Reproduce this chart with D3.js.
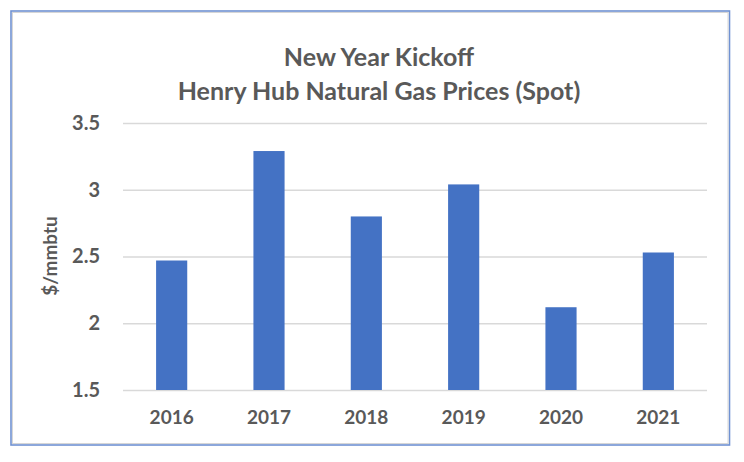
<!DOCTYPE html>
<html>
<head>
<meta charset="utf-8">
<script src="https://cdn.jsdelivr.net/npm/d3@7"></script>
<style>
  html, body { margin: 0; padding: 0; background: #ffffff; }
  svg { display: block; }
  text { font-family: Lato, "Noto Sans", sans-serif; font-weight: 700; fill: #595959; }
</style>
</head>
<body>
<svg id="chart" width="744" height="462"></svg>
<script>
const categories = ["2016", "2017", "2018", "2019", "2020", "2021"];
const prices = [2.47, 3.29, 2.80, 3.04, 2.12, 2.53];
const yTicks = [1.5, 2, 2.5, 3, 3.5];
const titleLines = ["New Year Kickoff", "Henry Hub Natural Gas Prices (Spot)"];
const yAxisTitle = "$/mmbtu";

(function () {
const svg = d3.select("#chart");

// frame
svg.append("rect").attr("x", 11).attr("y", 11).attr("width", 718.5).attr("height", 434)
  .attr("fill", "#ffffff").attr("stroke", "#7092d2").attr("stroke-width", 1.6);
svg.append("rect").attr("x", 12.5).attr("y", 12.5).attr("width", 715.5).attr("height", 431)
  .attr("fill", "none").attr("stroke", "#d6d6d6").attr("stroke-width", 1);

const plotLeft = 123, plotRight = 707, plotTop = 123, plotBottom = 390;

const x = d3.scaleBand().domain(categories).range([plotLeft, plotRight])
  .paddingInner(0.68).paddingOuter(0.34);
const y = d3.scaleLinear().domain([1.5, 3.5]).range([plotBottom, plotTop]);

// y axis with gridlines
const yAxis = d3.axisLeft(y).tickValues(yTicks).tickFormat(d3.format("")).tickSize(-(plotRight - plotLeft)).tickPadding(23);
const gy = svg.append("g").attr("transform", `translate(${plotLeft},0)`).call(yAxis);
gy.select(".domain").remove();
gy.selectAll(".tick line").attr("stroke", "#d9d9d9").attr("stroke-width", 1.4);
gy.selectAll(".tick text").attr("font-size", 20).style("fill", "#595959");

// bars
svg.append("g").selectAll("rect").data(categories).join("rect")
  .attr("x", d => x(d))
  .attr("width", x.bandwidth())
  .attr("y", (d, i) => y(prices[i]))
  .attr("height", (d, i) => y(1.5) - y(prices[i]))
  .attr("fill", "#4472c4");

// x axis
const xAxis = d3.axisBottom(x).tickSize(0).tickPadding(21);
const gx = svg.append("g").attr("transform", `translate(0,${plotBottom})`).call(xAxis);
gx.select(".domain").remove();
gx.selectAll(".tick text").attr("font-size", 19).style("fill", "#595959");

// title
const baselines = [66, 100];
svg.append("g").selectAll("text").data(titleLines).join("text")
  .attr("x", 379).attr("y", (d, i) => baselines[i])
  .attr("text-anchor", "middle")
  .attr("font-size", 25)
  .text(d => d);

// y axis title
svg.append("text")
  .attr("transform", "translate(50,256) rotate(-90)")
  .attr("text-anchor", "middle").attr("dy", "0.35em")
  .attr("font-size", 19)
  .text(yAxisTitle);
})();
</script>
</body>
</html>
